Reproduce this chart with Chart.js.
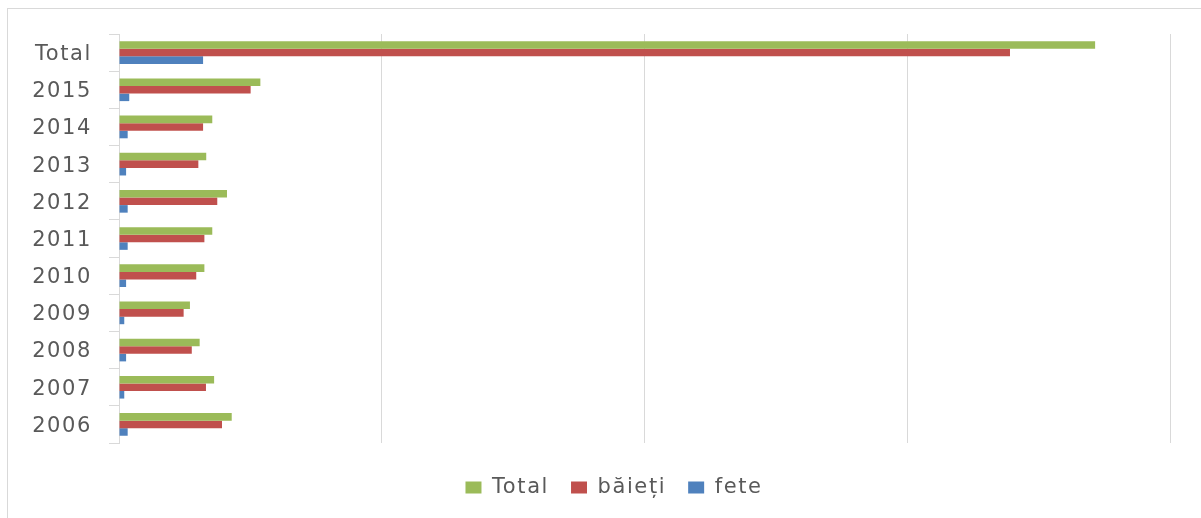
<!DOCTYPE html>
<html>
<head>
<meta charset="utf-8">
<script src="https://cdn.jsdelivr.net/npm/chart.js@4/dist/chart.umd.min.js"></script>
<style>
  html, body { margin: 0; padding: 0; background: #fff; overflow: hidden; }
  #wrap { position: relative; width: 1201px; height: 518px; overflow: hidden; }
  #frame { position: absolute; left: 7px; top: 8px; width: 1250px; height: 560px;
           border-left: 1px solid #d9d9d9; border-top: 1px solid #d9d9d9;
           border-right: none; border-bottom: none; }
  canvas { position: absolute; left: 0; top: 0; }
</style>
</head>
<body>
<div id="wrap">
  <div id="frame"></div>
  <canvas id="c" width="1201" height="518"></canvas>
</div>
<script>
const categories = ["Total", "2015", "2014", "2013", "2012", "2011", "2010", "2009", "2008", "2007", "2006"];
const totalValues = [3715, 538, 355, 332, 411, 355, 325, 270, 307, 362, 429];
const baietiValues = [3391, 501, 320, 302, 374, 325, 294, 246, 277, 331, 392];
const feteValues = [320, 39, 33, 27, 33, 33, 27, 20, 27, 20, 33];
const seriesNames = ["Total", "băieți", "fete"];
const axisMax = 4000;
const axisStep = 1000;

const gridColor = "#d9d9d9";
const textColor = "#595959";

const spacingPlugin = {
  id: "spacing",
  beforeInit(chart) { chart.ctx.letterSpacing = "1.6px"; },
  beforeUpdate(chart) { chart.ctx.letterSpacing = "1.6px"; },
  beforeDraw(chart) { chart.ctx.letterSpacing = "1.6px"; },
  afterLayout(chart) {
    if (chart.legend) { chart.legend.left += 29; chart.legend.right += 29; }
  }
};

new Chart(document.getElementById("c"), {
  type: "bar",
  data: {
    labels: categories,
    datasets: [
      { label: seriesNames[0], data: totalValues, backgroundColor: "#9BBB59" },
      { label: seriesNames[1], data: baietiValues, backgroundColor: "#C0504D" },
      { label: seriesNames[2], data: feteValues, backgroundColor: "#4F81BD" }
    ]
  },
  plugins: [spacingPlugin],
  options: {
    indexAxis: "y",
    responsive: false,
    animation: false,
    devicePixelRatio: 1,
    datasets: { bar: { barPercentage: 1.0, categoryPercentage: 0.61 } },
    layout: { padding: { left: 0, right: 31, top: 34, bottom: 10 } },
    scales: {
      x: {
        min: 0, max: axisMax,
        ticks: { display: false, stepSize: axisStep },
        grid: { color: gridColor, lineWidth: 1, drawTicks: false },
        border: { display: false },
        afterFit: (s) => { s.height = 12; }
      },
      y: {
        ticks: { color: textColor, padding: 17, labelOffset: 2, font: { family: "DejaVu Sans", size: 21 } },
        grid: { color: gridColor, drawOnChartArea: false, drawTicks: true, tickLength: 10, offset: true },
        border: { display: true, color: gridColor, width: 1 },
        afterFit: (s) => { s.width = 119; }
      }
    },
    plugins: {
      legend: {
        position: "bottom",
        labels: {
          color: textColor,
          boxWidth: 16, boxHeight: 12,
          padding: 22,
          font: { family: "DejaVu Sans", size: 21 }
        }
      },
      tooltip: { enabled: false }
    }
  }
});
</script>
</body>
</html>
